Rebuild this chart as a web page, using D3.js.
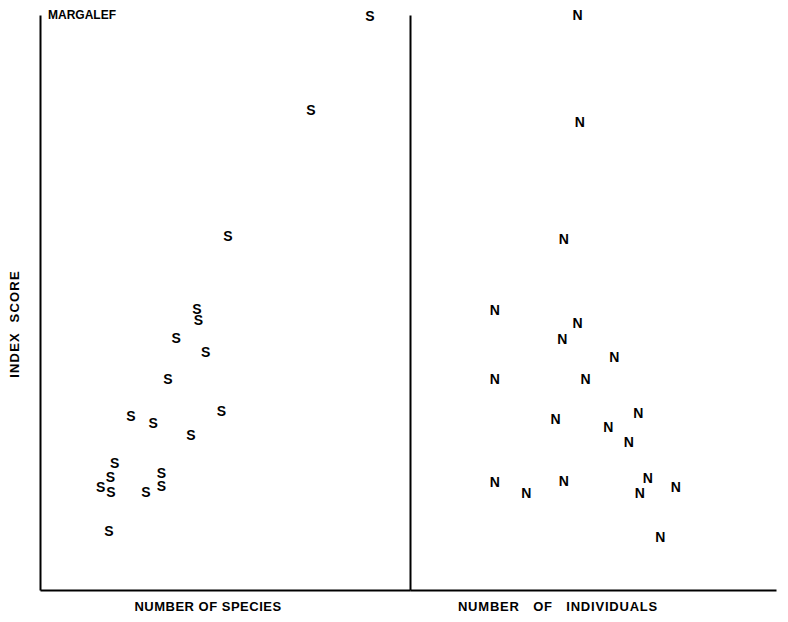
<!DOCTYPE html>
<html><head><meta charset="utf-8">
<script src="https://cdn.jsdelivr.net/npm/d3@7"></script>
<style>body{margin:0;background:#fff}</style></head>
<body><svg id="chart" width="788" height="622"></svg>
<script>
// Left panel: Margalef index vs number of species (symbol "S")
const speciesCount = [44.6, 36.6, 25.4, 21.2, 21.4, 18.4, 22.4, 17.3, 24.5, 12.3, 15.3, 20.4, 10.1, 9.5, 8.2, 9.6, 16.4, 16.4, 14.3, 9.3];
const speciesScore = [9.98, 8.35, 6.16, 4.89, 4.70, 4.38, 4.14, 3.67, 3.11, 3.03, 2.90, 2.70, 2.21, 1.97, 1.79, 1.70, 2.03, 1.81, 1.70, 1.03];
// Right panel: Margalef index vs number of individuals (symbol "N")
const individualsCount = [22.9, 23.2, 21.0, 11.6, 22.9, 20.8, 27.9, 11.6, 24.0, 31.2, 19.9, 27.1, 29.9, 11.6, 15.9, 21.0, 32.5, 31.4, 36.3, 34.2];
const individualsScore = [10.0, 8.14, 6.10, 4.87, 4.64, 4.37, 4.05, 3.67, 3.67, 3.08, 2.97, 2.83, 2.57, 1.88, 1.69, 1.90, 1.95, 1.69, 1.79, 0.92];

const panelTitle = "MARGALEF";
const yLabel = "INDEX  SCORE";
const xLabels = ["NUMBER OF SPECIES", "NUMBER OF INDIVIDUALS"];
const symbols = ["S", "N"];

const svg = d3.select("#chart");
const font = "'Liberation Sans', Arial, sans-serif";

const y = d3.scaleLinear().domain([0, 10]).range([590, 15]);
const xS = d3.scaleLinear().domain([0, 50]).range([40, 410]);
const xN = d3.scaleLinear().domain([0, 50]).range([410, 776]);

function styleAxis(g) {
  g.select(".domain").attr("stroke", "#000").attr("stroke-width", 2);
}
svg.append("g").attr("transform", "translate(40,0)")
  .call(d3.axisLeft(y).tickValues([]).tickSizeOuter(0)).call(styleAxis);
svg.append("g").attr("transform", "translate(410,0)")
  .call(d3.axisLeft(y).tickValues([]).tickSizeOuter(0)).call(styleAxis);
svg.append("g").attr("transform", "translate(0,590)")
  .call(d3.axisBottom(xS).tickValues([]).tickSizeOuter(0)).call(styleAxis);
svg.append("g").attr("transform", "translate(0,590)")
  .call(d3.axisBottom(xN).tickValues([]).tickSizeOuter(0)).call(styleAxis);

const sData = speciesCount.map((c, i) => ({c, s: speciesScore[i]}));
const nData = individualsCount.map((c, i) => ({c, s: individualsScore[i]}));

svg.append("g").selectAll("text").data(sData).join("text")
  .attr("x", d => xS(d.c)).attr("y", d => y(d.s))
  .attr("text-anchor", "middle").attr("dominant-baseline", "central")
  .attr("font-family", font).attr("font-weight", "bold").attr("font-size", 14)
  .text(symbols[0]);

svg.append("g").selectAll("text").data(nData).join("text")
  .attr("x", d => xN(d.c)).attr("y", d => y(d.s))
  .attr("text-anchor", "middle").attr("dominant-baseline", "central")
  .attr("font-family", font).attr("font-weight", "bold").attr("font-size", 14)
  .text(symbols[1]);

svg.append("text").attr("x", 48).attr("y", 19)
  .attr("font-family", font).attr("font-weight", "bold").attr("font-size", 12)
  .text(panelTitle);

svg.append("text").attr("transform", "translate(19,324) rotate(-90)")
  .attr("text-anchor", "middle")
  .attr("font-family", font).attr("font-weight", "bold").attr("font-size", 13)
  .attr("letter-spacing", 1.2)
  .style("white-space", "pre")
  .text(yLabel);

svg.append("text").attr("x", 208).attr("y", 611).attr("text-anchor", "middle")
  .attr("font-family", font).attr("font-size", 13).attr("font-weight", 600)
  .attr("letter-spacing", 0.5)
  .text(xLabels[0]);
svg.append("text").attr("x", 558).attr("y", 611).attr("text-anchor", "middle")
  .attr("font-family", font).attr("font-size", 13).attr("font-weight", 600)
  .attr("letter-spacing", 0.8).attr("word-spacing", 9)
  .text(xLabels[1]);
</script>
</body></html>
